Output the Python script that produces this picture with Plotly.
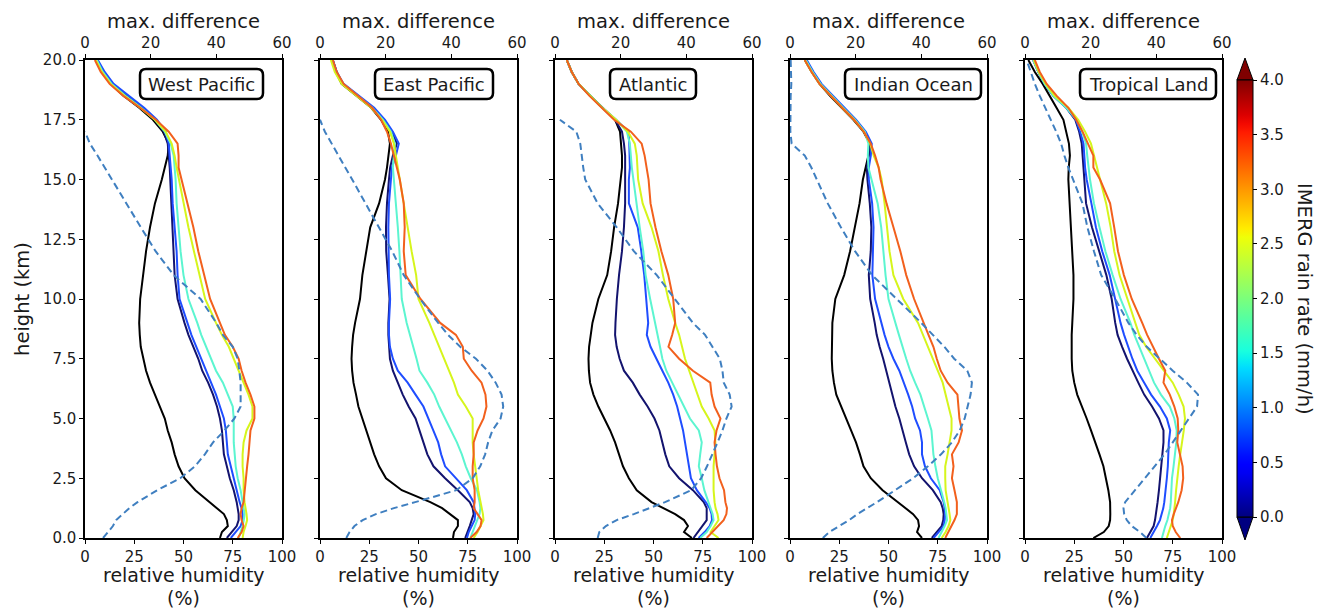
import numpy as np
import plotly.graph_objects as go

# Height levels (km) shared by every profile
heights = [0, 0.25, 0.5, 0.75, 1.0, 1.25, 1.5, 2.0, 2.5, 3.0, 3.5, 4.0, 4.5, 5.0, 5.5,
           6.0, 6.5, 7.0, 7.5, 8.0, 8.5, 9.0, 10, 11, 12, 13, 14, 15, 15.5, 16, 16.5,
           17, 17.5, 18, 18.5, 19, 19.5, 20]

# ---- West Pacific: relative humidity (%) per rain-rate class ----
wp_clear = [68.5, 69.5, 72.5, 72, 70.5, 67, 63.5, 56, 50.5, 47.5, 45.5, 44, 42, 40.5, 38, 35.5, 33, 31, 29.5, 28.3, 27.8, 27.5, 28, 29.5, 31, 33, 35.5, 39, 40.5, 42, 42.5, 39.5, 34.5, 27.5, 19.5, 13, 9, 6]
wp_r1 = [72, 74.5, 77, 78, 78, 77.5, 77, 75.5, 73.5, 72, 70.5, 70, 69.5, 68.5, 67, 65, 62.5, 59.5, 57.5, 55, 52.5, 50.5, 47, 45.5, 45, 44.5, 44, 43.5, 43, 42.5, 42, 40, 35.5, 29, 21, 14, 9.5, 6]
wp_r2 = [74, 76.5, 79, 80, 80, 79.5, 78.5, 77, 75.5, 74, 72.5, 72, 71.5, 70.5, 68.5, 66.5, 64, 61.5, 59, 56.5, 54, 52, 48, 47, 46.5, 45.5, 44.5, 44, 43.5, 43, 42.5, 41, 36.5, 30, 22, 14.5, 10, 6.5]
wp_r3 = [78, 79, 80, 80.6, 81, 80.5, 80, 79, 77.5, 76.5, 76, 75.5, 75.5, 75.5, 75, 72.5, 70, 66.5, 64, 61.5, 59, 57, 52.5, 50, 48.5, 47.5, 46.5, 46, 45.5, 45, 43.5, 40.5, 35.5, 28.5, 20.5, 13.5, 9, 6]
wp_r4 = [80, 80.5, 81.5, 82.3, 82, 81.5, 81, 80.5, 80.5, 80, 80, 80.5, 82, 85, 85, 83, 80.5, 78, 75.5, 73, 69.5, 66.5, 61, 58, 55.3, 52.5, 50, 47.5, 46.5, 45.5, 44, 41, 35.5, 28, 20, 13, 8.5, 5.5]
wp_r5 = [77.5, 79.5, 80.5, 79.5, 79, 79.5, 80.5, 81, 81.5, 82.3, 83, 83.5, 84, 86, 86, 84, 81.5, 79.5, 78, 75, 71, 68.5, 63.5, 60.5, 57.5, 55, 52, 49, 47.5, 47.5, 47, 42.5, 36, 28, 19.5, 12.5, 8, 5]
wp_maxdiff = [5.5, 7, 8.5, 9.5, 11.5, 13.5, 16, 22, 29, 33.5, 36.5, 39, 42.5, 45.5, 47.4, 47.5, 47.4, 47, 46.5, 45, 42, 40, 35.2, 27, 21.5, 17, 12.5, 8, 6, 3.8, 1.5, 0, None, None, None, None, None, None]

# ---- East Pacific ----
ep_clear = [67.5, 68, 70, 70, 66, 62, 56, 41.5, 33.5, 30, 27.5, 25.5, 23.5, 21.5, 19.5, 18.3, 17, 16.3, 16, 16.3, 16.8, 17.8, 20.3, 21.5, 23.5, 25.5, 30, 33, 34, 34.7, 35.5, 34.5, 31, 26, 18.5, 11, 8, 6]
ep_r1 = [73.7, 75, 76, 77, 78, 77.5, 76, 70, 63.5, 57.6, 54.5, 52.5, 50.5, 48.5, 45, 42, 39.5, 37, 35.5, 35, 34.7, 34.7, 35.3, 34.5, 33.6, 33.5, 34, 35, 35.6, 37, 39, 36.5, 32, 26.5, 19, 11.5, 8.5, 6.5]
ep_r2 = [74.6, 75.5, 77, 78.5, 78.8, 78.5, 78, 74.5, 69, 63.5, 61.5, 60, 57.5, 55, 52.5, 48.5, 44.5, 39.5, 37, 35.5, 35, 35, 35.6, 35, 34.7, 34.7, 35, 36, 36.5, 38.5, 40, 37, 33, 27.5, 20, 12, 8.5, 6.5]
ep_r3 = [76.3, 77.5, 79, 80, 81, 81.4, 81, 79.7, 76.5, 74, 72, 69.5, 66.7, 63.5, 60.5, 58, 54.5, 50.5, 49, 47.3, 45.5, 44, 41.5, 41, 40.3, 39.5, 38.5, 37.5, 37, 37.5, 38, 36, 32, 26.5, 19, 11.5, 8, 6]
ep_r4 = [78, 80, 81.5, 83, 82.7, 82.2, 81.5, 80.3, 79.5, 78.8, 78, 77.5, 77.5, 77.5, 74, 70, 68, 65.5, 63, 60.5, 58, 55.5, 50, 48.8, 46.5, 44.5, 42.6, 40.5, 39.3, 38.5, 37.5, 35.5, 31.5, 26, 18.5, 11, 7.5, 5.5]
ep_r5 = [76.3, 79.5, 81.5, 82, 80, 78, 78.5, 78.5, 77.5, 77.5, 78, 78, 80, 83, 84.5, 84, 82, 77, 73, 72.5, 69, 61, 51, 43.5, 42.5, 43, 42.5, 40.5, 39, 37.5, 36, 34, 31, 26.5, 19.5, 12, 8.5, 6.5]
ep_maxdiff = [8, 9, 10.5, 13, 17, 22.5, 29, 41.5, 46.5, 48.8, 50.3, 51.2, 52.5, 55, 55.8, 55.3, 53.5, 51, 47.5, 42.7, 39, 36, 30.5, 25.5, 22, 18, 14, 9.8, 7.7, 5.6, 3.5, 1.5, 0, None, None, None, None, None]

# ---- Atlantic ----
atl_clear = [69.5, 65.5, 67.5, 65.5, 61, 55, 49, 41.5, 37.5, 34.5, 32.5, 30.5, 28, 25, 22, 19.5, 17.8, 17.2, 17, 17.3, 18, 19, 22, 26.5, 28.5, 30, 32, 33.3, 34, 34, 33.5, 33, 30.5, 24, 18, 12, 8.5, 6]
atl_r1 = [70.3, 72.5, 75, 77, 77, 77, 75.5, 70, 63, 58, 56, 54.5, 53, 50.5, 47, 43, 39.5, 35, 32.8, 31.3, 30.5, 30.7, 31.4, 32.5, 34, 35, 35.6, 35.6, 35.6, 35.6, 35, 34, 30.5, 24, 18, 12, 8.5, 6]
atl_r2 = [72.9, 76, 78.5, 79.7, 79.5, 78.5, 76.5, 72, 69, 68, 67.3, 66.3, 65, 63.5, 62, 60, 57.5, 54.5, 51.5, 48.5, 46.6, 47.3, 46.3, 45.3, 43.8, 42, 37.5, 37.5, 38, 38, 37.7, 37.3, 31, 24, 18, 12, 8.5, 6]
atl_r3 = [73.7, 77, 79, 80.5, 80, 79, 77.8, 75.8, 74.5, 73, 73.7, 74.5, 73, 68.5, 65.5, 62.3, 59.5, 56.5, 54.5, 53.3, 52, 50.8, 48.3, 46, 44.8, 43, 41.3, 39.7, 39, 38.5, 38, 36.5, 31, 24, 18, 12, 8.5, 6]
atl_r4 = [83, 79, 81, 83, 82.5, 81.5, 81, 80.5, 80.5, 80.5, 81, 81.4, 81, 78, 74.5, 72.3, 70, 67.8, 66, 64.5, 63, 61, 57.5, 54.8, 52.5, 49, 44.5, 42.2, 42, 41.5, 40.5, 37, 31, 24, 18, 12, 8.5, 6]
atl_r5 = [77, 80, 83, 85.6, 87, 87.3, 86.5, 85.8, 83.5, 82.2, 81.5, 81, 82, 84, 81, 79.5, 78.8, 70, 63, 57.6, 59.5, 61, 60, 57.5, 54, 51, 48.5, 47.5, 46.5, 45.5, 44, 38.5, 30, 23.5, 17.5, 12, 8.5, 6]
atl_maxdiff = [13, 13.5, 15.5, 18.8, 24, 28.5, 33.5, 41.5, 44.5, 46.3, 48, 49.5, 51, 52.2, 53.8, 53.2, 51.4, 51, 50.2, 48, 45.7, 42, 36.6, 31, 24, 18.8, 13, 9.2, 8.6, 8.2, 7.7, 6.5, 1.5, None, None, None, None, None]

# ---- Indian Ocean ----
io_clear = [67, 64.5, 65.5, 65, 62.5, 58.5, 54.5, 47, 41, 37.3, 35.5, 33.5, 31, 28.5, 26, 23.5, 22.3, 21.5, 21.2, 21.2, 21.2, 21.5, 23, 27.5, 30.5, 33, 35.3, 37, 38.3, 39.8, 40.5, 37.3, 32.2, 26.3, 20.3, 15, 11, 7.5]
io_r1 = [72, 74.5, 77, 77.8, 78, 77.5, 76.5, 72.5, 67, 63, 60.5, 58.8, 57.3, 55.5, 53.5, 52, 50.3, 48.8, 47.3, 45.5, 44, 43, 40.7, 40, 41, 41.3, 40.5, 39.3, 39, 40, 41, 38, 33, 27, 21, 15.5, 11.5, 8]
io_r2 = [72.9, 75.5, 78, 78.5, 78.8, 78.5, 78, 76, 71.5, 68.5, 67, 67, 66, 63.5, 62, 60, 57.8, 55.5, 52.5, 50, 48, 46.3, 43.2, 41.8, 42.2, 42.4, 41.7, 40, 40, 41, 41.5, 38.5, 33.5, 27.5, 21.5, 16, 12, 8.5]
io_r3 = [75.4, 77, 78.5, 79.7, 79.5, 79, 78.3, 76.5, 75, 73.8, 72.8, 72.3, 71.8, 70, 68, 66.2, 63.5, 61, 59, 57.3, 55.3, 53.5, 50, 48.5, 47.5, 46.3, 44.5, 41.5, 39.8, 39.5, 39.8, 38, 33, 27, 21, 15.5, 11.5, 8]
io_r4 = [77, 79, 80.5, 81.4, 81, 80.5, 80, 79, 78.8, 78.8, 80, 81, 82, 82, 80.5, 79, 77.5, 75, 72.5, 70, 67.3, 65, 57.5, 52.5, 50.5, 49.3, 48, 46.5, 45, 42.5, 40.7, 37.5, 32.5, 26.5, 20.5, 15, 11, 7.5]
io_r5 = [78.8, 80.5, 82.2, 83.5, 84.7, 84.7, 84.7, 83.5, 82.2, 83, 82.2, 85.6, 87.3, 86, 85.6, 85, 80, 76.5, 74.5, 72.8, 70.3, 68, 63, 59, 56, 52.5, 49, 46, 45, 43.2, 41, 37.5, 32.5, 26.5, 20.5, 15, 11, 7.5]
io_maxdiff = [10, 12, 15, 18, 20.5, 23.5, 26.5, 32, 37.5, 42, 46, 49.3, 51.7, 53.2, 54.2, 55, 55.4, 54, 50, 47, 43.5, 40, 32.5, 25, 19.8, 15.5, 11.5, 8.3, 6.5, 4.5, 0.5, 0.1, 0.1, 0.1, 0.2, 0.4, 0.3, 0.2]

# ---- Tropical Land ----
tl_clear = [34.7, 40, 42.5, 43.2, 43.3, 43.3, 43.2, 42.3, 41.2, 39.8, 37.8, 35.8, 33.5, 31.3, 29, 26.5, 25, 24, 23.7, 23.6, 23.7, 24, 24.6, 24.6, 24, 23.3, 22.7, 22, 22.2, 22.8, 22.3, 21, 19.5, 16, 12.5, 9, 5, 1.7]
tl_r1 = [61.9, 63.5, 65.3, 66, 66.5, 67, 67.3, 68, 68.6, 69.3, 70, 70.3, 70.3, 68, 64.5, 60.5, 57.5, 54.5, 51.8, 49.3, 47, 45.8, 44, 41.3, 37.5, 34, 31, 30, 29.5, 29.2, 28.8, 27.5, 25.5, 21, 14.4, 10, 6.8, 4.2]
tl_r2 = [63.6, 65.5, 67, 68.5, 69.5, 70.2, 70.7, 71.5, 72, 72.5, 72.8, 73, 73.7, 72, 68.5, 64, 60.5, 57, 54.5, 52.3, 50.3, 48.5, 45.8, 43, 39.2, 36, 33.7, 31.3, 30.5, 30, 29.7, 28, 25.8, 21, 14.4, 10, 6.8, 4.2]
tl_r3 = [69.5, 70.3, 71.2, 72.3, 73.2, 73.7, 74, 74.3, 74.6, 75.4, 76.2, 76.8, 77, 75.8, 73.5, 69, 65.5, 63, 60.5, 58, 55.5, 53.5, 48.5, 44.5, 40.8, 37.8, 35, 33, 32.2, 31.6, 31, 29, 26.3, 21, 14.4, 10, 6.8, 4.2]
tl_r4 = [72, 73, 74.2, 75, 75.5, 75.9, 76.2, 76.7, 77.2, 78, 78.8, 79.8, 80.6, 81.2, 80.5, 78, 75, 70.5, 66, 61.5, 58, 56, 51.7, 48, 45.3, 43.5, 41.2, 38, 36.4, 35, 33.5, 30.5, 27, 22, 15, 10.5, 7, 4.5]
tl_r5 = [78.8, 76.5, 75, 74.6, 75.5, 76.7, 77.8, 79.5, 80.3, 80, 78.5, 77.3, 77.8, 77.5, 75.8, 73.5, 70.3, 71.2, 68, 65, 62, 59.5, 54.2, 50.2, 47.2, 45.3, 43.2, 38.1, 34.7, 34.7, 32, 29.2, 26, 22, 16.1, 11, 7.5, 5]
tl_maxdiff = [37, 35, 32.5, 31, 30.2, 30, 30.5, 33.5, 36.5, 39.5, 42.5, 45, 47.5, 50, 52.4, 52.7, 49.3, 45, 41, 37.1, 34, 31.5, 27.5, 23.2, 21, 19, 17.5, 14.5, 13.2, 12, 11, 9.5, 7.8, 6.2, 4.5, 3, 1.8, 0.5]

region_names = ["West Pacific", "East Pacific", "Atlantic", "Indian Ocean", "Tropical Land"]
profile_sets = [
    [wp_clear, wp_r1, wp_r2, wp_r3, wp_r4, wp_r5],
    [ep_clear, ep_r1, ep_r2, ep_r3, ep_r4, ep_r5],
    [atl_clear, atl_r1, atl_r2, atl_r3, atl_r4, atl_r5],
    [io_clear, io_r1, io_r2, io_r3, io_r4, io_r5],
    [tl_clear, tl_r1, tl_r2, tl_r3, tl_r4, tl_r5],
]
maxdiff_sets = [wp_maxdiff, ep_maxdiff, atl_maxdiff, io_maxdiff, tl_maxdiff]

rh_ticks = [0, 25, 50, 75, 100]
diff_ticks = [0, 20, 40, 60]
height_ticks = [0, 2.5, 5, 7.5, 10, 12.5, 15, 17.5, 20]
rate_ticks = [0, 0.5, 1.0, 1.5, 2.0, 2.5, 3.0, 3.5, 4.0]

# ---- styling ----
profile_colors = ["#000000", "#13136e", "#1f4dff", "#5cf5d0", "#d6f51c", "#f2601d"]
dash_color = "#3f7fc0"
FONT = "DejaVu Sans"
TXT = "#1a1a1a"
TICK_SIZE = 15
TITLE_SIZE = 19.5
XTITLE_SIZE = 19

W, H = 1317, 610
panel_left = [85, 320, 555, 790, 1025]
panel_w = 197
plot_top, plot_bottom = 60, 538
box_w = [123, 118, 86, 136, 136]


def fx(px):
    return px / W


def fy(py):
    return 1 - py / H


# matplotlib "jet" segment data -> plotly colorscale
_jet_r = [(0, 0), (0.35, 0), (0.66, 1), (0.89, 1), (1, 0.5)]
_jet_g = [(0, 0), (0.125, 0), (0.375, 1), (0.64, 1), (0.91, 0), (1, 0)]
_jet_b = [(0, 0.5), (0.11, 1), (0.34, 1), (0.65, 0), (1, 0)]
_t = np.linspace(0, 1, 51)


def _chan(seg):
    xs, ys = zip(*seg)
    return np.interp(_t, xs, ys)


_r, _g, _b = _chan(_jet_r), _chan(_jet_g), _chan(_jet_b)
jet_scale = [[float(t), f"rgb({int(round(r*255))},{int(round(g*255))},{int(round(b*255))})"]
             for t, r, g, b in zip(_t, _r, _g, _b)]

fig = go.Figure()

axis_common = dict(showline=True, linecolor="black", linewidth=1.5, ticks="outside",
                   ticklen=4, tickwidth=1.2, tickcolor="black", showgrid=False,
                   zeroline=False, tickfont=dict(family=FONT, size=TICK_SIZE, color=TXT))

layout = {}
shapes = []
annotations = []

for i in range(5):
    n = i + 1
    xb = "x" if n == 1 else f"x{n}"
    yb = "y" if n == 1 else f"y{n}"
    xt = f"x{n + 5}"
    for vals, col in zip(profile_sets[i], profile_colors):
        fig.add_trace(go.Scatter(x=vals, y=heights, xaxis=xb, yaxis=yb, mode="lines",
                                 line=dict(color=col, width=2), showlegend=False,
                                 hoverinfo="skip"))
    fig.add_trace(go.Scatter(x=maxdiff_sets[i], y=heights, xaxis=xt, yaxis=yb, mode="lines",
                             line=dict(color=dash_color, width=2, dash="7px,4px"),
                             showlegend=False, hoverinfo="skip"))

    L = panel_left[i]
    dom_x = [fx(L), fx(L + panel_w)]
    dom_y = [fy(plot_bottom), fy(plot_top)]
    layout["xaxis" if n == 1 else f"xaxis{n}"] = dict(
        axis_common, domain=dom_x, anchor=yb, range=[0, 100], tickvals=rh_ticks)
    layout[f"xaxis{n + 5}"] = dict(
        axis_common, overlaying=xb, side="top", anchor=yb, range=[0, 60],
        tickvals=diff_ticks,
        title=dict(text="max. difference", standoff=0,
                   font=dict(family=FONT, size=TITLE_SIZE, color=TXT)))
    layout["yaxis" if n == 1 else f"yaxis{n}"] = dict(
        axis_common, domain=dom_y, anchor=xb, range=[0, 20], tickvals=height_ticks,
        ticktext=[f"{v:.1f}" for v in height_ticks], mirror=True,
        showticklabels=(n == 1),
        title=dict(text="height (km)" if n == 1 else "", standoff=8,
                   font=dict(family=FONT, size=TITLE_SIZE, color=TXT)))

    # bottom axis title, two lines
    cx = fx(L + panel_w / 2)
    annotations.append(dict(text="relative humidity", xref="paper", yref="paper",
                            x=cx, y=fy(575), xanchor="center", yanchor="middle",
                            showarrow=False,
                            font=dict(family=FONT, size=XTITLE_SIZE, color=TXT)))
    annotations.append(dict(text="(%)", xref="paper", yref="paper",
                            x=cx, y=fy(597.5), xanchor="center", yanchor="middle",
                            showarrow=False,
                            font=dict(family=FONT, size=XTITLE_SIZE, color=TXT)))

    # rounded label box
    bx0, bx1 = L + 55, L + 55 + box_w[i]
    by0, by1 = 69, 99
    r = 6
    pts = (f"M {fx(bx0 + r)},{fy(by0)} L {fx(bx1 - r)},{fy(by0)} "
           f"Q {fx(bx1)},{fy(by0)} {fx(bx1)},{fy(by0 + r)} L {fx(bx1)},{fy(by1 - r)} "
           f"Q {fx(bx1)},{fy(by1)} {fx(bx1 - r)},{fy(by1)} L {fx(bx0 + r)},{fy(by1)} "
           f"Q {fx(bx0)},{fy(by1)} {fx(bx0)},{fy(by1 - r)} L {fx(bx0)},{fy(by0 + r)} "
           f"Q {fx(bx0)},{fy(by0)} {fx(bx0 + r)},{fy(by0)} Z")
    shapes.append(dict(type="path", xref="paper", yref="paper", path=pts,
                       line=dict(color="black", width=2.5), fillcolor="white", layer="above"))
    annotations.append(dict(text=region_names[i], xref="paper", yref="paper",
                            x=fx((bx0 + bx1) / 2), y=fy((by0 + by1) / 2),
                            xanchor="center", yanchor="middle", showarrow=False,
                            font=dict(family=FONT, size=18, color=TXT)))

# colour bar for the rain-rate classes
cb_x0, cb_x1 = 1237, 1253
cb_top, cb_bot = 80, 517
fig.add_trace(go.Scatter(
    x=[None], y=[None], mode="markers", showlegend=False, hoverinfo="skip",
    marker=dict(color=[0], cmin=0, cmax=4, colorscale=jet_scale, showscale=True,
                colorbar=dict(x=fx(cb_x0), xanchor="left", xpad=0, ypad=0,
                              y=fy((cb_top + cb_bot) / 2), yanchor="middle",
                              len=cb_bot - cb_top, lenmode="pixels",
                              thickness=cb_x1 - cb_x0, thicknessmode="pixels",
                              outlinewidth=1, outlinecolor="black",
                              tickvals=rate_ticks, ticktext=[f"{v:.1f}" for v in rate_ticks],
                              ticks="outside", ticklen=4, tickcolor="black",
                              tickfont=dict(family=FONT, size=TICK_SIZE, color=TXT)))))

shapes.append(dict(type="path", xref="paper", yref="paper",
                   path=f"M {fx(cb_x0)},{fy(cb_top)} L {fx(cb_x1)},{fy(cb_top)} L {fx((cb_x0 + cb_x1) / 2)},{fy(58)} Z",
                   fillcolor="#800000", line=dict(color="black", width=1)))
shapes.append(dict(type="path", xref="paper", yref="paper",
                   path=f"M {fx(cb_x0)},{fy(cb_bot)} L {fx(cb_x1)},{fy(cb_bot)} L {fx((cb_x0 + cb_x1) / 2)},{fy(540)} Z",
                   fillcolor="#000080", line=dict(color="black", width=1)))
annotations.append(dict(text="IMERG rain rate (mm/h)", xref="paper", yref="paper",
                        x=fx(1305), y=fy(299), textangle=90, showarrow=False,
                        xanchor="center", yanchor="middle",
                        font=dict(family=FONT, size=TITLE_SIZE, color=TXT)))

fig.update_layout(**layout)
fig.update_layout(width=W, height=H, margin=dict(l=0, r=0, t=0, b=0, autoexpand=False),
                  paper_bgcolor="white", plot_bgcolor="white",
                  shapes=shapes, annotations=annotations,
                  font=dict(family=FONT, color=TXT))

fig.write_html("out.html")
